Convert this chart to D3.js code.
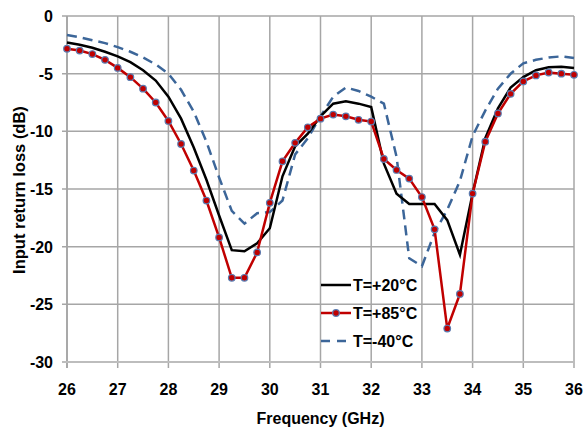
<!DOCTYPE html>
<html><head><meta charset="utf-8">
<script src="https://cdn.jsdelivr.net/npm/d3@7"></script>
<style>body{margin:0;background:#fff}svg{display:block}text{font-family:"Liberation Sans",Arial,sans-serif;font-weight:bold}</style>
</head><body><svg id="c" width="588" height="434"></svg>
<script>
const freqs = [26,26.25,26.5,26.75,27,27.25,27.5,27.75,28,28.25,28.5,28.75,29,29.25,29.5,29.75,30,30.25,30.5,30.75,31,31.25,31.5,31.75,32,32.25,32.5,32.75,33,33.25,33.5,33.75,34,34.25,34.5,34.75,35,35.25,35.5,35.75,36];
const t20 = [-2.3,-2.5,-2.75,-3.1,-3.5,-4.0,-4.7,-5.6,-7.0,-8.9,-11.4,-14.2,-17.3,-20.3,-20.4,-19.7,-18.4,-13.9,-11.3,-10.2,-8.7,-7.6,-7.4,-7.6,-7.9,-12.8,-15.4,-16.3,-16.3,-16.3,-17.7,-20.7,-15.4,-10.6,-8.0,-6.2,-5.3,-4.7,-4.45,-4.4,-4.5];
const t85 = [-2.84,-3.0,-3.3,-3.8,-4.5,-5.3,-6.3,-7.5,-9.1,-11.1,-13.4,-16.0,-19.2,-22.7,-22.7,-20.5,-16.2,-12.6,-11.0,-9.65,-8.9,-8.55,-8.7,-9.0,-9.15,-12.4,-13.35,-14.1,-15.7,-18.5,-27.1,-24.1,-15.4,-10.9,-8.45,-6.75,-5.67,-5.15,-4.9,-5.0,-5.1];
const tm40 = [-1.65,-1.85,-2.1,-2.35,-2.7,-3.1,-3.6,-4.2,-5.0,-6.4,-8.3,-10.9,-14.0,-16.9,-18.0,-17.1,-17.0,-16.0,-12.0,-10.6,-8.7,-7.0,-6.2,-6.5,-7.0,-7.6,-12.2,-21.0,-21.7,-18.8,-16.8,-14.3,-10.4,-8.2,-6.3,-5.0,-4.1,-3.8,-3.6,-3.5,-3.65];
const xTicks = [26,27,28,29,30,31,32,33,34,35,36];
const yTicks = [0,-5,-10,-15,-20,-25,-30];
const seriesNames = ["T=+20°C","T=+85°C","T=-40°C"];

const svg = d3.select("#c");
const x = d3.scaleLinear().domain([26,36]).range([67,574]);
const y = d3.scaleLinear().domain([-30,0]).range([362,16]);

// grid
const g = svg.append("g");
g.selectAll(".vg").data(xTicks).join("line")
  .attr("x1",d=>x(d)).attr("x2",d=>x(d)).attr("y1",y(0)).attr("y2",y(-30)+6)
  .attr("stroke",d=>d===36?"#bdbdbd":(d===26?"#8c8c8c":"#a6a6a6")).attr("stroke-width",d=>d===36?2:1.5);
g.selectAll(".hg").data(yTicks).join("line")
  .attr("x1",x(26)-5).attr("x2",x(36)).attr("y1",d=>y(d)).attr("y2",d=>y(d))
  .attr("stroke",d=>d===-30?"#bdbdbd":"#a6a6a6").attr("stroke-width",d=>d===-30?2.2:1.5);

// axes labels
svg.append("g").selectAll("text").data(xTicks).join("text")
  .attr("x",d=>x(d)).attr("y",395).attr("text-anchor","middle").attr("font-size",16).text(d=>d);
svg.append("g").selectAll("text").data(yTicks).join("text")
  .attr("x",53).attr("y",d=>y(d)+6).attr("text-anchor","end").attr("font-size",16).text(d=>d);
svg.append("text").attr("x",x(31)).attr("y",424).attr("text-anchor","middle").attr("font-size",16).text("Frequency (GHz)");
svg.append("text").attr("transform",`translate(25,190) rotate(-90)`).attr("text-anchor","middle").attr("font-size",16.5).text("Input return loss (dB)");

const line = d3.line().x((d,i)=>x(freqs[i])).y(d=>y(d));
svg.append("path").datum(tm40).attr("d",line).attr("fill","none").attr("stroke","#3c6699").attr("stroke-width",2.5).attr("stroke-dasharray","10,6");
svg.append("path").datum(t20).attr("d",line).attr("fill","none").attr("stroke","#000").attr("stroke-width",2.5);
svg.append("path").datum(t85).attr("d",line).attr("fill","none").attr("stroke","#c00000").attr("stroke-width",2.5);
svg.append("g").selectAll("circle").data(t85).join("circle")
  .attr("cx",(d,i)=>x(freqs[i])).attr("cy",d=>y(d)).attr("r",3.3)
  .attr("fill","#c00000").attr("stroke","#5a7bb0").attr("stroke-width",1.2);

// legend
const leg = svg.append("g");
const ly = [285,313,341];
leg.append("line").attr("x1",321).attr("x2",351).attr("y1",ly[0]).attr("y2",ly[0]).attr("stroke","#000").attr("stroke-width",2.5);
leg.append("line").attr("x1",321).attr("x2",351).attr("y1",ly[1]).attr("y2",ly[1]).attr("stroke","#c00000").attr("stroke-width",2.5);
leg.append("circle").attr("cx",336).attr("cy",ly[1]).attr("r",3.3).attr("fill","#c00000").attr("stroke","#5a7bb0").attr("stroke-width",1.2);
leg.append("line").attr("x1",321).attr("x2",351).attr("y1",ly[2]).attr("y2",ly[2]).attr("stroke","#3c6699").attr("stroke-width",2.5).attr("stroke-dasharray","9,7");
leg.selectAll("text").data(seriesNames).join("text")
  .attr("x",353).attr("y",(d,i)=>ly[i]+6).attr("font-size",16).text(d=>d);
</script></body></html>
